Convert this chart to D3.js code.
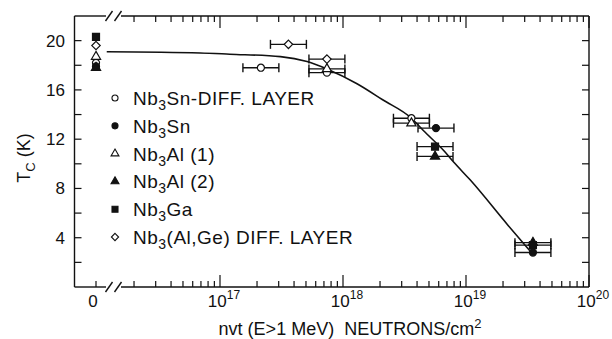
<!DOCTYPE html>
<html>
<head>
<meta charset="utf-8">
<script src="https://cdn.jsdelivr.net/npm/d3@7"></script>
<style>
  body { margin: 0; background: #fff; }
  svg { display: block; }
  text { font-family: "Liberation Sans", Arial, sans-serif; fill: #111; }
</style>
</head>
<body>
<figure id="tc-chart" style="margin:0"></figure>
<script>
// [fluence (n/cm2, E>1 MeV), Tc (K)] -- fluence 0 means unirradiated
const snDiff = [[0, 18.2], [2.15e17, 17.8], [7.4e17, 17.4], [3.6e18, 13.7]];
const sn = [[0, 17.9], [5.7e18, 12.9], [3.5e19, 2.8]];
const al1 = [[0, 18.7], [7.4e17, 17.7], [3.6e18, 13.3]];
const al2 = [[0, 17.8], [5.6e18, 10.6], [3.5e19, 3.6]];
const ga = [[0, 20.3], [5.6e18, 11.4], [3.5e19, 3.4]];
const alGe = [[0, 19.6], [3.6e17, 19.7], [7.4e17, 18.5]];
const errFactor = 1.4;   // horizontal error bars, x/1.4 .. x*1.4

// hand drawn trend curve
const trend = [[1.2e16, 19.1], [6.9e16, 19.0], [1.2e17, 18.9], [3.1e17, 18.7], [5.1e17, 18.3],
  [7.4e17, 17.7], [1.3e18, 16.5], [2.1e18, 15.2], [3.6e18, 13.7], [4.5e18, 12.7],
  [6.7e18, 11.0], [8.0e18, 10.1], [1.08e19, 8.7], [2.2e19, 5.0], [3.4e19, 2.8]];

const yTicks = [2, 4, 6, 8, 10, 12, 14, 16, 18, 20];
const yLabels = [4, 8, 12, 16, 20];
const decades = [17, 18, 19, 20];

const legendNames = [["Nb", "3", "Sn-DIFF. LAYER"], ["Nb", "3", "Sn"], ["Nb", "3", "Al (1)"],
  ["Nb", "3", "Al (2)"], ["Nb", "3", "Ga"], ["Nb", "3", "(Al,Ge) DIFF. LAYER"]];

const W = 612, H = 339;
const plotL = 74.5, plotR = 589, plotT = 16, plotB = 287;
const zeroX = 96;

const svg = d3.select("#tc-chart").append("svg")
  .attr("width", W).attr("height", H);

const xLog = d3.scaleLog().domain([1e16, 1e20]).range([97, plotR]);
const x = v => v === 0 ? zeroX : xLog(v);
const y = d3.scaleLinear().domain([0, 22]).range([plotB, plotT]);

const ink = "#111";

// frame with axis breaks at top and bottom
const frame = svg.append("g").attr("stroke", ink).attr("stroke-width", 1.4).attr("fill", "none");
[plotB, plotT].forEach(yy => {
  frame.append("line").attr("x1", plotL).attr("x2", 106).attr("y1", yy).attr("y2", yy);
  frame.append("line").attr("x1", 121).attr("x2", plotR).attr("y1", yy).attr("y2", yy);
  [109, 118].forEach(cx => {
    frame.append("line").attr("x1", cx - 3.5).attr("y1", yy + 5).attr("x2", cx + 3.5).attr("y2", yy - 5);
  });
});
frame.append("line").attr("x1", plotL).attr("x2", plotL).attr("y1", plotT).attr("y2", plotB);
frame.append("line").attr("x1", plotR).attr("x2", plotR).attr("y1", plotT).attr("y2", plotB);

// log ticks
const minor = [];
[16, 17, 18, 19].forEach(d => {
  for (let m = 2; m <= 9; m++) minor.push(m * Math.pow(10, d));
});
const major = decades.map(d => Math.pow(10, d));

const ticks = svg.append("g").attr("stroke", ink).attr("stroke-width", 1.2);
minor.forEach(v => {
  ticks.append("line").attr("x1", xLog(v)).attr("x2", xLog(v)).attr("y1", plotB).attr("y2", plotB - 6);
  ticks.append("line").attr("x1", xLog(v)).attr("x2", xLog(v)).attr("y1", plotT).attr("y2", plotT + 6);
});
major.forEach(v => {
  ticks.append("line").attr("x1", xLog(v)).attr("x2", xLog(v)).attr("y1", plotB).attr("y2", plotB - 12);
  ticks.append("line").attr("x1", xLog(v)).attr("x2", xLog(v)).attr("y1", plotT).attr("y2", plotT + 12);
});
ticks.append("line").attr("x1", zeroX).attr("x2", zeroX).attr("y1", plotB).attr("y2", plotB - 6);
yTicks.forEach(v => {
  ticks.append("line").attr("x1", plotL).attr("x2", plotL + 7).attr("y1", y(v)).attr("y2", y(v));
  ticks.append("line").attr("x1", plotR).attr("x2", plotR - 7).attr("y1", y(v)).attr("y2", y(v));
});

// tick labels
svg.append("g").selectAll("text").data(yLabels).join("text")
  .attr("x", 65).attr("y", d => y(d) + 6)
  .attr("text-anchor", "end").style("font-size", "17px")
  .text(d => d);

svg.append("text").attr("x", zeroX - 3).attr("y", 307)
  .attr("text-anchor", "middle").style("font-size", "17px").text("0");

decades.forEach(d => {
  const t = svg.append("text").attr("x", xLog(Math.pow(10, d)) + 4).attr("y", 307)
    .attr("text-anchor", "middle").style("font-size", "17px");
  t.append("tspan").text("10");
  t.append("tspan").attr("dy", -8).style("font-size", "12px").text(d);
});

// axis titles
const xt = svg.append("text").attr("x", 350).attr("y", 335)
  .attr("text-anchor", "middle").style("font-size", "18px").attr("xml:space", "preserve");
xt.append("tspan").text("nvt (E>1 MeV)  NEUTRONS/cm");
xt.append("tspan").attr("dy", -7).style("font-size", "13px").text("2");

const yt = svg.append("text").attr("transform", "translate(30," + 158 + ")rotate(-90)")
  .attr("text-anchor", "middle").style("font-size", "18px");
yt.append("tspan").text("T");
yt.append("tspan").attr("dy", 5).style("font-size", "13px").text("C");
yt.append("tspan").attr("dy", -5).text(" (K)");

// trend curve
svg.append("path")
  .datum(trend)
  .attr("fill", "none").attr("stroke", ink).attr("stroke-width", 1.6)
  .attr("d", d3.line().curve(d3.curveMonotoneX)
    .x(d => xLog(d[0])).y(d => y(d[1])));

// markers
const marker = (type, s) => {
  if (type === "circle") return d3.symbol(d3.symbolCircle, s * s * 0.8)();
  if (type === "square") return d3.symbol(d3.symbolSquare, s * s)();
  if (type === "triangle") return d3.symbol(d3.symbolTriangle, s * s * 0.75)();
  const r = s * 0.6;
  return "M0," + (-r) + "L" + r + ",0L0," + r + "L" + (-r) + ",0Z";
};

const series = [
  { data: snDiff, type: "circle", filled: false },
  { data: sn, type: "circle", filled: true },
  { data: al1, type: "triangle", filled: false },
  { data: al2, type: "triangle", filled: true },
  { data: ga, type: "square", filled: true },
  { data: alGe, type: "diamond", filled: false }
];

series.forEach(s => {
  const g = svg.append("g");
  const irr = s.data.filter(d => d[0] > 0);
  irr.forEach(d => {
    const x1 = xLog(d[0] / errFactor), x2 = xLog(d[0] * errFactor), yy = y(d[1]);
    g.append("line").attr("x1", x1).attr("x2", x2).attr("y1", yy).attr("y2", yy)
      .attr("stroke", ink).attr("stroke-width", 1.3);
    [x1, x2].forEach(xx => g.append("line").attr("x1", xx).attr("x2", xx)
      .attr("y1", yy - 4.5).attr("y2", yy + 4.5).attr("stroke", ink).attr("stroke-width", 1.4));
  });
  g.selectAll("path").data(s.data).join("path")
    .attr("transform", d => "translate(" + x(d[0]) + "," + y(d[1]) + ")")
    .attr("d", marker(s.type, 7))
    .attr("fill", s.filled ? ink : "#fff")
    .attr("stroke", ink).attr("stroke-width", 1.2);
});

// legend
const legend = svg.append("g");
legendNames.forEach((name, i) => {
  const ly = 98 + i * 27.8;
  legend.append("path")
    .attr("transform", "translate(115," + ly + ")")
    .attr("d", marker(series[i].type, 6))
    .attr("fill", series[i].filled ? ink : "#fff")
    .attr("stroke", ink).attr("stroke-width", 1.1);
  const t = legend.append("text").attr("x", 133).attr("y", ly + 7)
    .style("font-size", "19px").style("letter-spacing", "0.5px");
  t.append("tspan").text(name[0]);
  t.append("tspan").attr("dy", 5).style("font-size", "14px").text(name[1]);
  t.append("tspan").attr("dy", -5).text(name[2]);
});
</script>
</body>
</html>
